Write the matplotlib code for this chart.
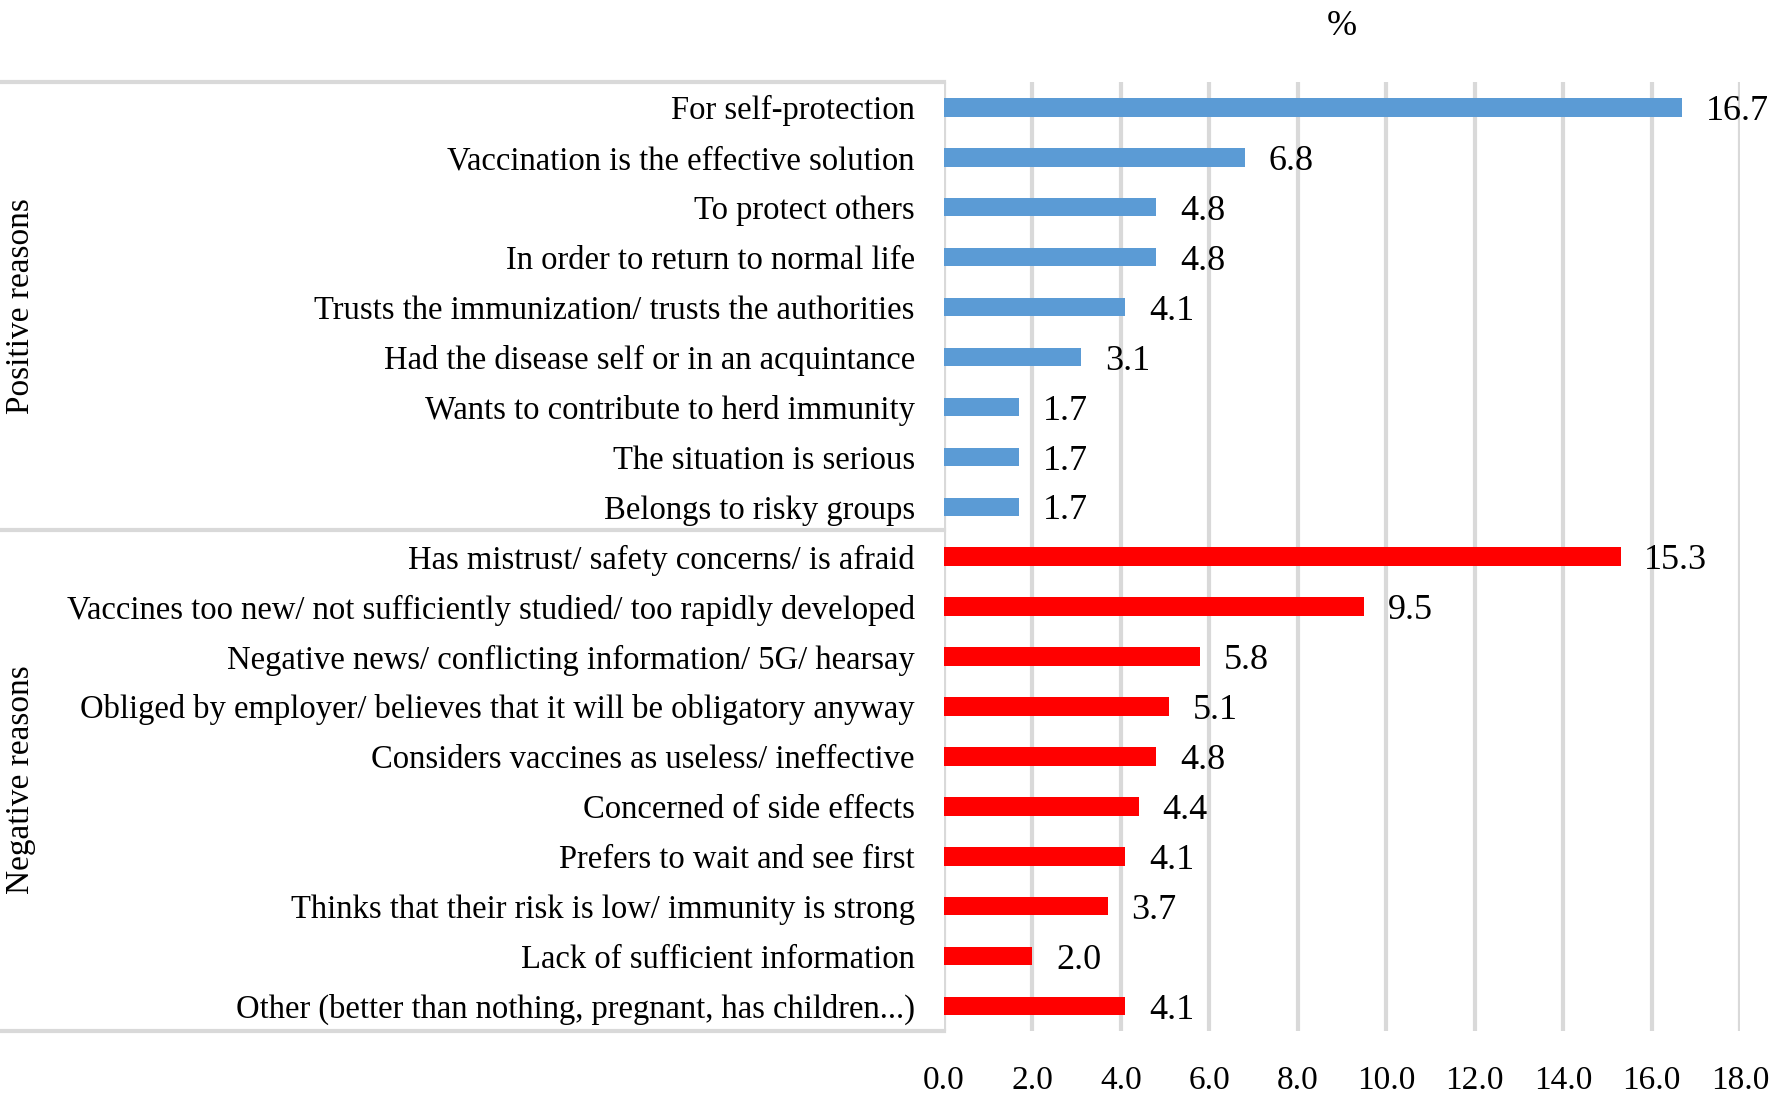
import matplotlib.pyplot as plt
import numpy as np
from matplotlib.lines import Line2D

plt.rcParams['font.family'] = ['Liberation Serif', 'DejaVu Serif']

positive_labels = [
    'For self-protection',
    'Vaccination is the effective solution',
    'To protect others',
    'In order to return to normal life',
    'Trusts the immunization/ trusts the authorities',
    'Had the disease self or in an acquintance',
    'Wants to contribute to herd immunity',
    'The situation is serious',
    'Belongs to risky groups',
]
positive_values = [16.7, 6.8, 4.8, 4.8, 4.1, 3.1, 1.7, 1.7, 1.7]

negative_labels = [
    'Has mistrust/ safety concerns/ is afraid',
    'Vaccines too new/ not sufficiently studied/ too rapidly developed',
    'Negative news/ conflicting information/ 5G/ hearsay',
    'Obliged by employer/ believes that it will be obligatory anyway',
    'Considers vaccines as useless/ ineffective',
    'Concerned of side effects',
    'Prefers to wait and see first',
    'Thinks that their risk is low/ immunity is strong',
    'Lack of sufficient information',
    'Other (better than nothing, pregnant, has children...)',
]
negative_values = [15.3, 9.5, 5.8, 5.1, 4.8, 4.4, 4.1, 3.7, 2.0, 4.1]

x_ticks = [0, 2, 4, 6, 8, 10, 12, 14, 16, 18]

labels = positive_labels + negative_labels
values = positive_values + negative_values
colors = ['#5B9BD5'] * len(positive_values) + ['#FF0000'] * len(negative_values)
y = np.arange(len(labels))

fig = plt.figure(figsize=(17.76, 10.96), dpi=100)
ax = fig.add_axes([0.5315, 0.0593, 0.4482, 0.8655])

ax.barh(y, values, height=0.37, color=colors, zorder=3)
ax.set_ylim(len(labels) - 0.5, -0.5)
ax.set_xlim(0, 18)

ax.set_xticks(x_ticks)
ax.set_xticklabels([f'{t:.1f}' for t in x_ticks], fontsize=24)
ax.set_yticks(y)
ax.set_yticklabels(labels, fontsize=23.5)
ax.tick_params(axis='both', length=0)
ax.tick_params(axis='x', pad=25)
ax.tick_params(axis='y', pad=21)

ax.grid(axis='x', color='#D9D9D9', linewidth=3, zorder=0)
for s in ax.spines.values():
    s.set_visible(False)

for yi, v in zip(y, values):
    ax.annotate(f'{v:.1f}', (v, yi), xytext=(17, -3), textcoords='offset points',
                va='center', ha='left', fontsize=26)

ax.set_title('%', fontsize=26, pad=34)

# left bracket box with group labels
box_right = 0.5315
for yy in [1 - 82 / 1096, 1 - 530 / 1096, 1 - 1031 / 1096]:
    fig.add_artist(Line2D([0, box_right], [yy, yy], color='#D9D9D9', linewidth=3))

fig.text(0.0115, 1 - 306 / 1096, 'Positive reasons', rotation=90, fontsize=24,
         va='center', ha='center')
fig.text(0.0115, 1 - 780 / 1096, 'Negative reasons', rotation=90, fontsize=24,
         va='center', ha='center')

fig.savefig('out.png', dpi=100)
